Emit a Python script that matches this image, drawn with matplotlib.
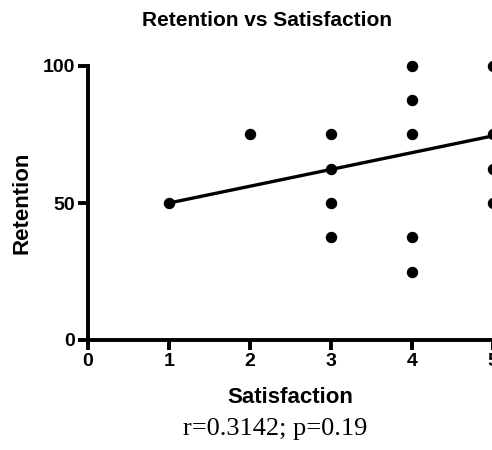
import matplotlib
matplotlib.use('Agg')
import matplotlib.pyplot as plt

# survey responses (overlapping points share a position)
satisfaction = [1, 2, 3, 3, 3, 3, 4, 4, 4, 4, 4, 5, 5, 5, 5]
retention = [50, 75, 75, 62.5, 50, 37.5, 100, 87.5, 75, 37.5, 25, 100, 75, 62.5, 50]

# regression line end points
fit_x = [1, 5]
fit_y = [50, 74.5]

x_ticks = [0, 1, 2, 3, 4, 5]
y_ticks = [0, 50, 100]
stats_text = 'r=0.3142; p=0.19'

plt.rcParams['font.family'] = ['Liberation Sans', 'DejaVu Sans']

fig = plt.figure(figsize=(4.92, 4.5), dpi=100)
ax = fig.add_axes([88 / 492, 1 - 340 / 450, 405 / 492, 274 / 450])

ax.scatter(satisfaction, retention, s=52, color='black', zorder=3, clip_on=False)
ax.plot(fit_x, fit_y, color='black', linewidth=2.4, zorder=2)

ax.set_xlim(0, 5)
ax.set_ylim(0, 100)
ax.set_xticks(x_ticks)
ax.set_yticks(y_ticks)

for side in ['top', 'right']:
    ax.spines[side].set_visible(False)
for side in ['left', 'bottom']:
    ax.spines[side].set_linewidth(2.8)

ax.tick_params(width=2.8, length=7, labelsize=14, pad=2.5)
for lbl in ax.get_xticklabels() + ax.get_yticklabels():
    lbl.set_fontweight('bold')

ax.set_xlabel('Satisfaction', fontsize=16, fontweight='bold', labelpad=12)
ax.set_ylabel('Retention', fontsize=16, fontweight='bold', labelpad=7)

fig.text(267 / 492, 1 - 20 / 450, 'Retention vs Satisfaction', ha='center', va='center',
         fontsize=15, fontweight='bold')
fig.text(275 / 492, 1 - 429 / 450, stats_text, ha='center', va='center',
         fontsize=19, family=['Liberation Serif', 'DejaVu Serif'])

fig.savefig('out.png', dpi=100)
